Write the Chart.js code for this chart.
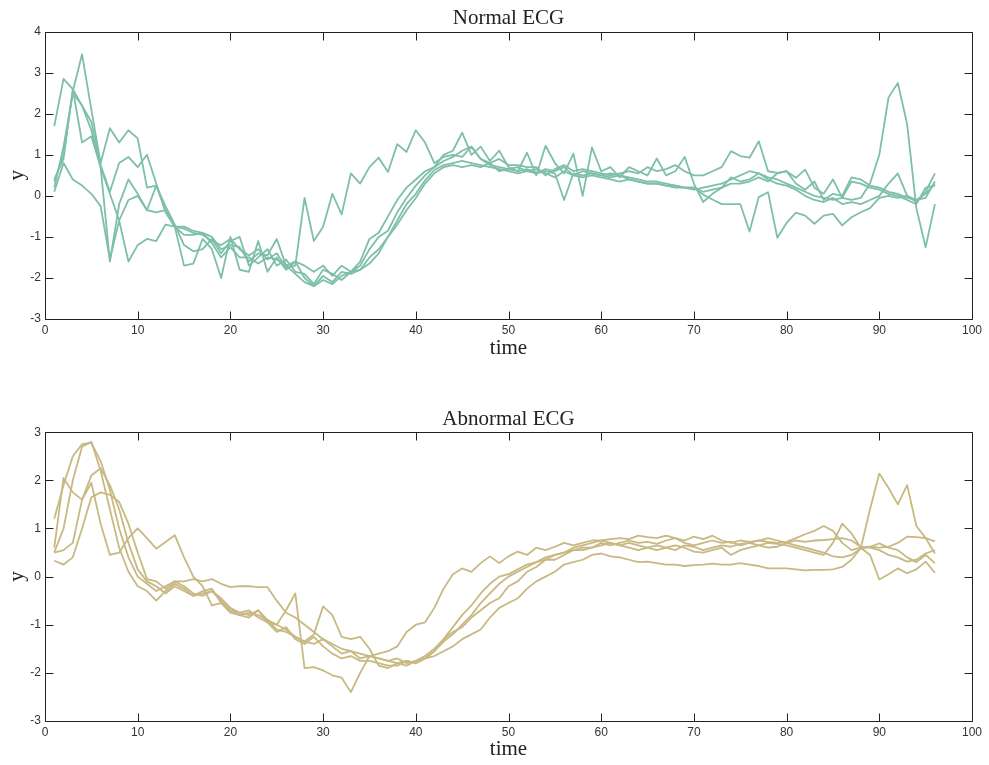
<!DOCTYPE html>
<html>
<head>
<meta charset="utf-8">
<title>ECG</title>
<script src="https://cdn.jsdelivr.net/npm/chart.js@4"></script>
<style>
  html, body { margin: 0; padding: 0; background: #fff; }
  canvas { position: absolute; left: 0; }
  #normalChart { top: 0; }
  #abnormalChart { top: 400px; }
</style>
</head>
<body>
<canvas id="normalChart" width="989" height="365"></canvas>
<canvas id="abnormalChart" width="989" height="365"></canvas>
<script>
const time = [1, 2, 3, 4, 5, 6, 7, 8, 9, 10, 11, 12, 13, 14, 15, 16, 17, 18, 19, 20,
  21, 22, 23, 24, 25, 26, 27, 28, 29, 30, 31, 32, 33, 34, 35, 36, 37, 38, 39, 40,
  41, 42, 43, 44, 45, 46, 47, 48, 49, 50, 51, 52, 53, 54, 55, 56, 57, 58, 59, 60,
  61, 62, 63, 64, 65, 66, 67, 68, 69, 70, 71, 72, 73, 74, 75, 76, 77, 78, 79, 80,
  81, 82, 83, 84, 85, 86, 87, 88, 89, 90, 91, 92, 93, 94, 95, 96];

// normal ECG traces
const normal1 = [1.7, 2.85, 2.6, 2.2, 1.6, 0.7, 0.05, -0.6, -0.1, 0.0,
  -0.35, -0.4, -0.35, -0.75, -0.8, -0.9, -0.95, -1.1, -1.2, -1.05,
  -1.3, -1.45, -1.3, -1.55, -1.4, -1.75, -1.7, -0.05, -1.1, -0.75,
  0.05, -0.45, 0.55, 0.3, 0.7, 0.93, 0.58, 1.26, 1.07, 1.6,
  1.3, 0.8, 0.95, 1.0, 0.95, 1.2, 0.9, 0.75, 0.7, 0.65,
  0.6, 0.65, 0.55, 0.65, 0.6, 0.7, 0.5, 0.6, 0.55, 0.5,
  0.45, 0.5, 0.4, 0.35, 0.3, 0.3, 0.25, 0.2, 0.2, 0.15,
  0.2, 0.25, 0.3, 0.4, 0.5, 0.6, 0.55, 0.45, 0.4, 0.3,
  0.2, 0.1, 0.0, -0.05, -0.1, -0.05, -0.1, -0.05, 0.3, 1.0,
  2.4, 2.75, 1.75, -0.3, -1.25, -0.2];
const normal2 = [0.35, 1.0, 2.55, 3.45, 2.1, 0.8, 1.65, 1.3, 1.6, 1.4,
  0.2, 0.25, -0.35, -0.75, -1.7, -1.65, -1.05, -1.3, -2.0, -1.0,
  -1.8, -1.85, -1.1, -1.85, -1.5, -1.8, -1.6, -2.0, -2.2, -1.95,
  -2.1, -1.85, -1.9, -1.8, -1.65, -1.4, -1.0, -0.6, -0.2, 0.05,
  0.38, 0.63, 0.75, 0.8, 0.85, 0.8, 0.75, 0.7, 0.65, 0.6,
  0.55, 0.6, 0.55, 0.6, 0.55, -0.1, 0.55, 0.5, 0.55, 0.5,
  0.55, 0.5, 0.45, 0.4, 0.35, 0.35, 0.3, 0.25, 0.2, 0.2,
  0.03, -0.09, -0.2, -0.2, -0.2, -0.87, -0.03, 0.09, -1.02, -0.66,
  -0.41, -0.48, -0.68, -0.48, -0.44, -0.72, -0.52, -0.4, -0.3, -0.05,
  0.0, -0.05, 0.0, -0.1, 0.05, 0.3];
const normal3 = [0.4, 0.9, 2.6, 1.3, 1.45, 0.7, -1.6, -0.2, 0.4, 0.05,
  -0.35, 0.25, -0.25, -0.7, -1.2, -1.35, -1.3, -1.05, -1.4, -1.1,
  -1.0, -1.7, -1.5, -1.3, -1.7, -1.55, -1.85, -1.9, -2.15, -1.8,
  -1.9, -2.05, -1.85, -1.6, -1.05, -0.9, -0.5, -0.1, 0.2, 0.4,
  0.6, 0.7, 1.0, 1.1, 1.54, 1.0, 1.2, 0.85, 1.1, 0.7,
  0.6, 1.05, 0.5, 1.22, 0.8, 0.55, 1.03, 0.0, 1.18, 0.6,
  0.7, 0.45, 0.7, 0.6, 0.5, 0.91, 0.5, 0.6, 0.95, 0.3,
  -0.15, 0.05, 0.2, 0.45, 0.35, 0.4, 0.55, 0.4, 0.3, 0.25,
  0.15, 0.0, -0.1, -0.15, -0.05, -0.2, -0.15, -0.2, -0.1, 0.0,
  0.3, 0.55, 0.0, -0.15, 0.1, 0.55];
const normal4 = [0.2, 1.2, 2.5, 2.2, 1.8, 0.75, 0.1, 0.8, 0.95, 0.7,
  1.0, 0.3, -0.4, -0.75, -0.95, -0.95, -0.9, -1.0, -1.3, -1.2,
  -1.25, -1.6, -1.4, -1.45, -1.05, -1.7, -1.6, -1.7, -1.85, -1.7,
  -1.95, -1.7, -1.85, -1.7, -1.3, -1.0, -0.85, -0.4, -0.05, 0.25,
  0.5, 0.7, 0.85, 0.95, 1.1, 1.2, 0.9, 0.8, 0.9, 0.75,
  0.75, 0.7, 0.7, 0.5, 0.65, 0.75, 0.6, 0.65, 0.6, 0.55,
  0.5, 0.55, 0.6, 0.55, 0.7, 0.6, 0.65, 0.75, 0.6, 0.5,
  0.5, 0.6, 0.7, 1.09, 0.97, 0.93, 1.33, 0.6, 0.56, 0.6,
  0.44, 0.64, 0.2, 0.05, 0.4, -0.05, 0.35, 0.3, 0.2, 0.15,
  0.05, 0.0, -0.1, -0.2, 0.2, 0.25];
const normal5 = [0.1, 0.8, 0.4, 0.25, 0.05, -0.25, -1.55, -0.6, -1.6, -1.2,
  -1.05, -1.1, -0.7, -0.75, -0.75, -0.85, -0.9, -1.15, -1.5, -1.25,
  -1.5, -1.5, -1.65, -1.5, -1.55, -1.7, -1.9, -2.1, -2.2, -2.05,
  -2.15, -1.95, -1.85, -1.8, -1.5, -1.3, -1.0, -0.7, -0.35, -0.05,
  0.3, 0.55, 0.7, 0.75, 0.7, 0.75, 0.7, 0.8, 0.6, 0.65,
  0.7, 0.6, 0.65, 0.55, 0.45, 0.6, 0.5, 0.45, 0.5, 0.45,
  0.4, 0.35, 0.4, 0.35, 0.3, 0.3, 0.25, 0.25, 0.2, 0.2,
  0.1, 0.15, 0.2, 0.3, 0.3, 0.35, 0.45, 0.35, 0.55, 0.6,
  0.3, 0.15, 0.35, -0.1, 0.05, 0.0, 0.45, 0.4, 0.25, 0.2,
  0.1, 0.05, -0.05, -0.1, -0.05, 0.35];

// abnormal ECG traces
const abnormal1 = [0.5, 0.55, 0.7, 1.6, 2.1, 2.25, 1.9, 1.4, 0.7, 0.15,
  -0.1, -0.2, -0.35, -0.2, -0.3, -0.4, -0.35, -0.3, -0.45, -0.65,
  -0.75, -0.7, -0.85, -0.95, -1.0, -0.7, -0.35, -1.9, -1.88, -1.95,
  -2.05, -2.1, -2.4, -2.0, -1.65, -1.6, -1.55, -1.45, -1.15, -1.0,
  -0.95, -0.65, -0.25, 0.05, 0.17, 0.1, 0.28, 0.42, 0.28, 0.42,
  0.52, 0.45, 0.6, 0.55, 0.62, 0.7, 0.65, 0.7, 0.75, 0.75,
  0.78, 0.8, 0.78, 0.85, 0.82, 0.8, 0.85, 0.8, 0.75, 0.83,
  0.78, 0.85, 0.75, 0.7, 0.75, 0.72, 0.75, 0.72, 0.7, 0.72,
  0.8, 0.88, 0.95, 1.05, 0.95, 0.7, 0.55, 0.6, 0.62, 0.69,
  0.6, 0.55, 0.4, 0.3, 0.45, 0.28];
const abnormal2 = [1.2, 1.9, 2.5, 2.75, 2.78, 2.4, 1.8, 1.0, 0.4, 0.0,
  -0.15, -0.3, -0.2, -0.1, -0.1, -0.05, -0.1, -0.05, -0.15, -0.22,
  -0.2, -0.2, -0.22, -0.22, -0.5, -0.75, -0.85, -1.0, -1.15, -1.3,
  -1.4, -1.5, -1.55, -1.6, -1.65, -1.7, -1.75, -1.8, -1.75, -1.8,
  -1.7, -1.55, -1.35, -1.2, -1.0, -0.8, -0.55, -0.35, -0.15, 0.0,
  0.1, 0.2, 0.3, 0.35, 0.45, 0.5, 0.6, 0.65, 0.7, 0.75,
  0.7, 0.65, 0.7, 0.65, 0.6, 0.55, 0.6, 0.65, 0.6, 0.52,
  0.5, 0.55, 0.6, 0.45, 0.55, 0.6, 0.65, 0.7, 0.68, 0.65,
  0.6, 0.55, 0.5, 0.45, 0.7, 1.1, 0.9, 0.6, 0.45, -0.06,
  0.05, 0.17, 0.07, 0.15, 0.31, 0.08];
const abnormal3 = [0.6, 2.05, 1.75, 1.6, 1.95, 1.1, 0.45, 0.5, 0.8, 1.0,
  0.8, 0.58, 0.72, 0.86, 0.4, 0.0, -0.2, -0.6, -0.55, -0.75,
  -0.8, -0.75, -0.8, -0.9, -1.0, -1.1, -1.25, -1.35, -1.2, -0.62,
  -0.8, -1.25, -1.3, -1.25, -1.5, -1.85, -1.9, -1.8, -1.85, -1.75,
  -1.7, -1.65, -1.55, -1.45, -1.3, -1.2, -1.1, -0.85, -0.65, -0.55,
  -0.45, -0.25, -0.1, 0.0, 0.1, 0.25, 0.3, 0.35, 0.45, 0.48,
  0.42, 0.4, 0.35, 0.3, 0.31, 0.28, 0.25, 0.25, 0.22, 0.24,
  0.25, 0.27, 0.25, 0.25, 0.28, 0.25, 0.22, 0.17, 0.17, 0.17,
  0.15, 0.13, 0.14, 0.14, 0.15, 0.2, 0.35, 0.59, 1.4, 2.14,
  1.84, 1.5, 1.9, 1.05, 0.8, 0.48];
const abnormal4 = [0.33, 0.25, 0.4, 1.0, 1.65, 1.75, 1.7, 1.55, 1.1, 0.5,
  -0.05, -0.1, -0.25, -0.1, -0.2, -0.35, -0.4, -0.3, -0.5, -0.7,
  -0.75, -0.8, -0.7, -0.9, -1.1, -1.15, -1.25, -1.35, -1.4, -1.3,
  -1.45, -1.6, -1.55, -1.7, -1.65, -1.7, -1.75, -1.7, -1.8, -1.75,
  -1.65, -1.5, -1.3, -1.15, -1.05, -0.85, -0.7, -0.55, -0.45, -0.2,
  -0.1, 0.1, 0.2, 0.35, 0.35, 0.45, 0.55, 0.6, 0.6, 0.65,
  0.7, 0.65, 0.6, 0.55, 0.6, 0.65, 0.6, 0.55, 0.65, 0.62,
  0.55, 0.6, 0.65, 0.62, 0.68, 0.7, 0.65, 0.6, 0.62, 0.7,
  0.75, 0.72, 0.75, 0.76, 0.78, 0.8, 0.75, 0.62, 0.6, 0.55,
  0.45, 0.4, 0.31, 0.35, 0.48, 0.55];
const abnormal5 = [0.5, 1.0, 2.0, 2.7, 2.8, 2.2, 1.4, 0.6, 0.1, -0.2,
  -0.3, -0.5, -0.3, -0.15, -0.25, -0.4, -0.3, -0.25, -0.55, -0.7,
  -0.8, -0.85, -0.7, -0.95, -1.15, -1.05, -1.3, -1.4, -1.25, -1.45,
  -1.6, -1.7, -1.65, -1.75, -1.75, -1.8, -1.85, -1.85, -1.75, -1.8,
  -1.7, -1.55, -1.3, -1.05, -0.8, -0.6, -0.35, -0.15, 0.0, 0.05,
  0.15, 0.25, 0.3, 0.4, 0.45, 0.5, 0.55, 0.55, 0.6, 0.7,
  0.65, 0.7, 0.75, 0.7, 0.72, 0.68, 0.75, 0.8, 0.7, 0.65,
  0.7, 0.75, 0.7, 0.72, 0.65, 0.7, 0.75, 0.8, 0.75, 0.7,
  0.65, 0.6, 0.55, 0.5, 0.42, 0.4, 0.45, 0.58, 0.62, 0.6,
  0.62, 0.7, 0.83, 0.82, 0.8, 0.73];

const normalSeries = [normal1, normal2, normal3, normal4, normal5];
const abnormalSeries = [abnormal1, abnormal2, abnormal3, abnormal4, abnormal5];

const serif = "'Liberation Serif', 'DejaVu Serif', serif";
const sans = "'Liberation Sans', Arial, sans-serif";

// matlab-ish frame: full box with inward ticks on all four sides
const frameTicks = {
  id: 'frameTicks',
  afterDraw(chart) {
    const { ctx, chartArea: a, scales: { x, y } } = chart;
    const len = 8;
    const l = Math.round(a.left) + 0.5, r = Math.round(a.right) + 0.5;
    const t = Math.round(a.top) + 0.5, b = Math.round(a.bottom) + 0.5;
    ctx.save();
    ctx.strokeStyle = '#222';
    ctx.lineWidth = 1;
    ctx.beginPath();
    x.ticks.forEach(tk => {
      const px = Math.round(x.getPixelForValue(tk.value)) + 0.5;
      ctx.moveTo(px, b); ctx.lineTo(px, b - len);
      ctx.moveTo(px, t); ctx.lineTo(px, t + len);
    });
    y.ticks.forEach(tk => {
      const py = Math.round(y.getPixelForValue(tk.value)) + 0.5;
      ctx.moveTo(l, py); ctx.lineTo(l + len, py);
      ctx.moveTo(r, py); ctx.lineTo(r - len, py);
    });
    ctx.rect(l, t, r - l, b - t);
    ctx.stroke();
    ctx.restore();
  }
};

function makeChart(id, title, series, color, yMin, yMax, opts) {
  const datasets = series.map(values => ({
    data: values.map((v, i) => ({ x: time[i], y: v })),
    borderColor: color,
    borderWidth: 1.8,
    borderJoinStyle: 'round',
    pointRadius: 0,
    fill: false,
    tension: 0
  }));

  return new Chart(document.getElementById(id), {
    type: 'line',
    data: { datasets },
    plugins: [frameTicks],
    options: {
      responsive: false,
      animation: false,
      events: [],
      layout: { padding: { right: 17 } },
      plugins: {
        legend: { display: false },
        tooltip: { enabled: false },
        title: {
          display: true,
          fullSize: false,   // centre over the plot box, not the canvas
          text: title,
          color: '#222',
          font: { family: serif, size: 21, weight: 'normal' },
          padding: opts.titlePad
        }
      },
      scales: {
        x: {
          type: 'linear',
          min: 0,
          max: 100,
          grid: { display: false, drawTicks: false },
          border: { display: false },
          ticks: { stepSize: 10, padding: 4, color: '#333', font: { family: sans, size: 12 } },
          title: {
            display: true,
            text: 'time',
            color: '#222',
            font: { family: serif, size: 21 },
            padding: { top: 0, bottom: opts.timePad }
          },
          afterFit: s => { s.height = opts.xHeight; }
        },
        y: {
          min: yMin,
          max: yMax,
          grid: { display: false, drawTicks: false },
          border: { display: false },
          ticks: { stepSize: 1, padding: 4, color: '#333', font: { family: sans, size: 12 } },
          title: {
            display: true,
            text: 'y',
            color: '#222',
            font: { family: serif, size: 21 },
            padding: { top: 5, bottom: 0 }
          },
          afterFit: s => { s.width = 45; }
        }
      }
    }
  });
}

makeChart('normalChart', 'Normal ECG', normalSeries, '#7dbfab', -3, 4,
  { titlePad: { top: 6, bottom: 0.5 }, xHeight: 46, timePad: 4 });
makeChart('abnormalChart', 'Abnormal ECG', abnormalSeries, '#c8b882', -3, 3,
  { titlePad: { top: 7, bottom: 0 }, xHeight: 44, timePad: 3 });
</script>
</body>
</html>
